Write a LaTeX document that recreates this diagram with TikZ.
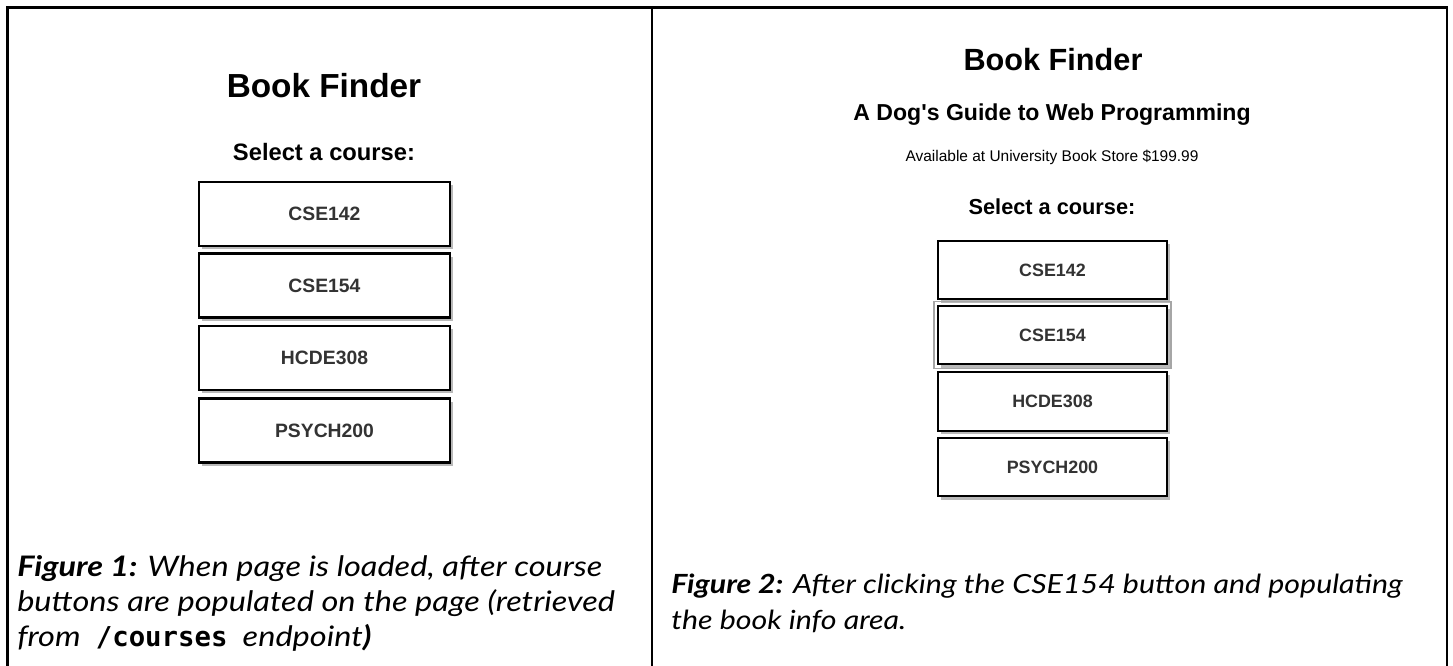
\documentclass[tikz,border=0pt]{standalone}
\usepackage{fontspec}
\usetikzlibrary{shadows,calc}
\newfontfamily\hv{Liberation Sans}
\newfontfamily\capfont[FakeStretch=1.15]{Lato}
\newfontfamily\codefont{DejaVu Sans Mono}
\definecolor{btntext}{HTML}{333333}
\tikzset{
  frame/.style={line width=1.7pt, black},
  heading/.style={anchor=base, inner sep=0pt, font=\hv\bfseries},
  btnbase/.style={draw=black, line width=1.6pt, fill=white, inner sep=0pt,
    text=btntext, font=\hv\bfseries,
    drop shadow={shadow xshift=2.4pt, shadow yshift=-2.4pt, fill=black!50, opacity=0.55}},
  btnbig/.style={btnbase, minimum width=188pt, minimum height=48pt,
    font=\hv\bfseries\fontsize{14.5}{16}\selectfont},
  btnsmall/.style={btnbase, minimum width=172pt, minimum height=44pt,
    font=\hv\bfseries\fontsize{13.4}{15}\selectfont},
  capleft/.style={anchor=base west, inner sep=0pt, font=\capfont\itshape\fontsize{21.2}{24}\selectfont},
  capright/.style={anchor=base west, inner sep=0pt, font=\capfont\itshape\fontsize{19.8}{23}\selectfont}
}
\begin{document}
\begin{tikzpicture}[x=0.75pt,y=-0.75pt]
\useasboundingbox (0,0) rectangle (1453,665);
% outer frame (open at the bottom) and panel divider
\coordinate (tl) at (7.5,670);
\coordinate (tl2) at (7.5,7.5);
\coordinate (tr) at (1447,7.5);
\coordinate (br) at (1447,670);
\coordinate (mt) at (652,7.5);
\coordinate (mb) at (652,670);
\draw[frame] (tl) -- (tl2) -- (tr) -- (br);
\draw[frame] (mt) -- (mb);

% ---------- left panel: page after loading ----------
\node[heading, font=\hv\bfseries\fontsize{25}{28}\selectfont] (ltitle) at (324,97) {Book Finder};
\node[heading, font=\hv\bfseries\fontsize{17.8}{20}\selectfont] (lselect) at (324,160) {Select a course:};
\node[btnbig] (l1) at (324.5,214) {CSE142};
\node[btnbig] (l2) at (324.5,285.5) {CSE154};
\node[btnbig] (l3) at (324.5,358) {HCDE308};
\node[btnbig] (l4) at (324.5,430.5) {PSYCH200};

\node[capleft] (lc1) at (17,576) {\textbf{Figure 1:} When page is loaded, after course};
\node[capleft] (lc2) at (17,611) {buttons are populated on the page (retrieved};
\node[capleft] (lc3) at (17,646) {from\ \ {\upshape\codefont\bfseries\fontsize{20.5}{24}\selectfont /courses}\ \ endpoint\textbf{)}};

% ---------- right panel: after choosing a course ----------
\node[heading, font=\hv\bfseries\fontsize{23}{26}\selectfont] (rtitle) at (1053,70) {Book Finder};
\node[heading, font=\hv\bfseries\fontsize{17.3}{20}\selectfont] (rbook) at (1052,120) {A Dog's Guide to Web Programming};
\node[heading, font=\hv\fontsize{11.6}{13}\selectfont] (rinfo) at (1052,161) {Available at University Book Store \$199.99};
\node[heading, font=\hv\bfseries\fontsize{16.3}{19}\selectfont] (rselect) at (1052,214) {Select a course:};
\node[btnsmall] (r1) at (1052.5,270) {CSE142};
\node[btnsmall] (r2) at (1052.5,335) {CSE154};
\node[btnsmall] (r3) at (1052.5,401.5) {HCDE308};
\node[btnsmall] (r4) at (1052.5,467) {PSYCH200};
% focus ring around the clicked button
\draw[black!35, line width=1.3pt] ($(r2.north west)+(-3,-3)$) rectangle ($(r2.south east)+(3,3)$);

\node[capright] (rc1) at (671,593) {\textbf{Figure 2:} After clicking the CSE154 button and populating};
\node[capright] (rc2) at (671,629) {the book info area.};
\end{tikzpicture}
\end{document}
